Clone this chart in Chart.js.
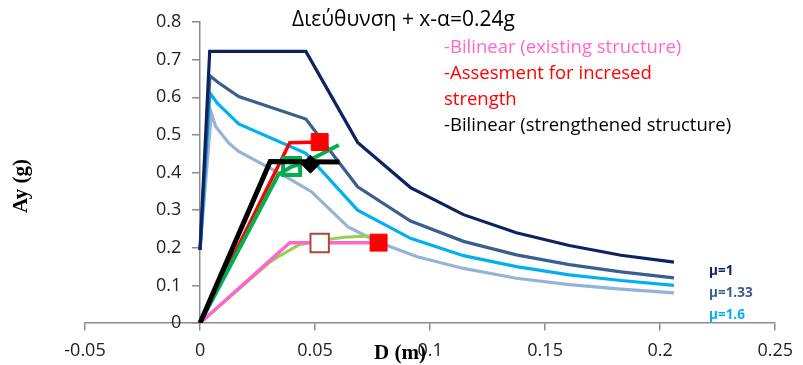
<!DOCTYPE html>
<html>
<head>
<meta charset="utf-8">
<script src="https://cdn.jsdelivr.net/npm/chart.js@4.4.1/dist/chart.umd.min.js"></script>
<style>
html,body{margin:0;padding:0;background:#fff;}
#wrap{width:803px;height:365px;position:relative;}
</style>
</head>
<body>
<div id="wrap"><canvas id="c" width="803" height="365"></canvas></div>
<script>
// Spectra in ADRS form: D (m) vs Ay (g)
const mu1D   = [0, 0.0042, 0.046, 0.0685, 0.0915, 0.1145, 0.1375, 0.1605, 0.183, 0.206];
const mu1A   = [0.194, 0.722, 0.722, 0.48, 0.36, 0.288, 0.24, 0.206, 0.18, 0.162];
const mu133D = [0, 0.0043, 0.0079, 0.0168, 0.046, 0.0685, 0.0915, 0.1145, 0.1375, 0.1605, 0.183, 0.206];
const mu133A = [0.194, 0.657, 0.639, 0.602, 0.542, 0.362, 0.271, 0.217, 0.181, 0.155, 0.136, 0.12];
const mu16D  = [0, 0.0043, 0.0075, 0.0168, 0.046, 0.0685, 0.0915, 0.1145, 0.1375, 0.1605, 0.183, 0.206];
const mu16A  = [0.194, 0.611, 0.584, 0.529, 0.451, 0.30, 0.225, 0.179, 0.15, 0.128, 0.113, 0.10];
const mu2D   = [0, 0.0049, 0.0068, 0.0125, 0.0168, 0.0384, 0.0484, 0.0642, 0.077, 0.0944, 0.1145, 0.1375, 0.1605, 0.183, 0.206];
const mu2A   = [0.194, 0.558, 0.522, 0.478, 0.456, 0.385, 0.349, 0.256, 0.216, 0.176, 0.145, 0.119, 0.102, 0.09, 0.08];

// capacity curves and bilinears
const capExistD = [0, 0.03, 0.034, 0.0427, 0.052, 0.0628, 0.0736];
const capExistA = [0, 0.16, 0.176, 0.207, 0.219, 0.228, 0.231];
const bilExistD = [0, 0.039, 0.0776];
const bilExistA = [0, 0.2136, 0.2136];
const assessD   = [0, 0.039, 0.052];
const assessA   = [0, 0.479, 0.481];
const capStrD   = [0, 0.034, 0.0398, 0.045, 0.0484, 0.0603];
const capStrA   = [0, 0.394, 0.416, 0.425, 0.435, 0.473];
const bilStrD   = [0, 0.0305, 0.0606];
const bilStrA   = [0, 0.429, 0.428];

// performance points
const redPtsD   = [0.052, 0.0776];
const redPtsA   = [0.481, 0.2136];
const brownPtD  = [0.052];
const brownPtA  = [0.2125];
const greenPtD  = [0.0398];
const greenPtA  = [0.416];
const blackPtD  = [0.048];
const blackPtA  = [0.422];

const xTicks = [-0.05, 0, 0.05, 0.1, 0.15, 0.2, 0.25];
const yTicks = [0, 0.1, 0.2, 0.3, 0.4, 0.5, 0.6, 0.7, 0.8];

const titleText = 'Διεύθυνση + x-α=0.24g';
const noteLines = [
  ['-Bilinear (existing structure)', '#ff66cc'],
  ['-Assesment for incresed', '#ff0000'],
  ['strength', '#ff0000'],
  ['-Bilinear (strengthened structure)', '#000000']
];
const muLabels = [['μ=1', '#0d2262'], ['μ=1.33', '#3a5f8f'], ['μ=1.6', '#00b0f0']];

const pts = (xs, ys) => xs.map((x, i) => ({ x, y: ys[i] }));

function line(data, color, width, order) {
  return { data, borderColor: color, borderWidth: width, showLine: true, pointRadius: 0,
           fill: false, tension: 0, order, borderJoinStyle: 'miter' };
}
function marker(data, style, radius, bg, border, bw, order) {
  return { data, showLine: false, pointStyle: style, pointRadius: radius,
           backgroundColor: bg, borderColor: border, borderWidth: bw, order };
}

const textPlugin = {
  id: 'texts',
  afterDraw(chart) {
    const ctx = chart.ctx;
    ctx.save();
    ctx.textBaseline = 'middle';
    ctx.textAlign = 'left';
    ctx.fillStyle = '#000';
    ctx.font = '21px "Open Sans"';
    ctx.fillText(titleText, 292, 20);

    ctx.font = '18.5px "Open Sans"';
    const noteY = [48, 74, 100, 126];
    noteLines.forEach((n, i) => { ctx.fillStyle = n[1]; ctx.fillText(n[0], 444, noteY[i]); });

    ctx.font = 'bold 13.5px "Open Sans"';
    const muY = [271, 293, 315];
    muLabels.forEach((m, i) => { ctx.fillStyle = m[1]; ctx.fillText(m[0], 709, muY[i]); });

    // axis titles
    ctx.fillStyle = '#000';
    ctx.font = 'bold 21px "Liberation Serif"';
    ctx.textAlign = 'center';
    ctx.fillText('D (m)', 400, 354);
    ctx.translate(22, 186);
    ctx.rotate(-Math.PI / 2);
    ctx.fillText('Ay (g)', 0, 0);
    ctx.restore();
  }
};

const fmtTick = v => String(Number(v.toFixed(2)));

new Chart(document.getElementById('c'), {
  type: 'scatter',
  data: {
    datasets: [
      marker(pts(blackPtD, blackPtA), 'rectRot', 9, '#000', '#000', 1, 0),
      line(pts(bilStrD, bilStrA), '#000000', 5, 1),
      marker(pts(redPtsD, redPtsA), 'rect', 12, '#ff0000', '#ff0000', 1, 2),
      marker(pts(brownPtD, brownPtA), 'rect', 13, '#ffffff', '#a9463f', 2, 3),
      line(pts(capStrD, capStrA), '#00b050', 4, 4),
      marker(pts(greenPtD, greenPtA), 'rect', 12, '#ffffff', '#00b050', 4, 5),
      line(pts(assessD, assessA), '#ff0000', 3.5, 6),
      line(pts(bilExistD, bilExistA), '#ff66cc', 3.5, 7),
      line(pts(capExistD, capExistA), '#92d050', 3, 8),
      line(pts(mu1D, mu1A), '#0d2262', 3.2, 9),
      line(pts(mu133D, mu133A), '#3a5f8f', 3.2, 10),
      line(pts(mu16D, mu16A), '#00b0f0', 3.2, 11),
      line(pts(mu2D, mu2A), '#95b3d7', 3.2, 12)
    ]
  },
  options: {
    responsive: false,
    animation: false,
    layout: { padding: { left: 85, right: 21, top: 22, bottom: 42 } },
    plugins: { legend: { display: false }, tooltip: { enabled: false } },
    scales: {
      x: {
        type: 'linear', min: -0.05, max: 0.25, position: { y: 0 },
        afterBuildTicks: s => { s.ticks = xTicks.map(v => ({ value: v })); },
        grid: { drawOnChartArea: false, drawTicks: true, tickLength: 7, color: '#8c8c8c', lineWidth: 1.5 },
        border: { display: true, color: '#8c8c8c', width: 1.5 },
        ticks: { callback: fmtTick, color: '#222', font: { family: 'Open Sans', size: 18 }, padding: 10, maxRotation: 0 }
      },
      y: {
        type: 'linear', min: 0, max: 0.8, position: { x: 0 },
        afterBuildTicks: s => { s.ticks = yTicks.map(v => ({ value: v })); },
        grid: { drawOnChartArea: false, drawTicks: true, tickLength: 7, color: '#8c8c8c', lineWidth: 1.5 },
        border: { display: true, color: '#8c8c8c', width: 1.5 },
        // an axis placed at x=0 draws its labels flush against the line, so pad them with spaces
        ticks: { callback: v => fmtTick(v) + '    ', color: '#222', font: { family: 'Open Sans', size: 18 } }
      }
    }
  },
  plugins: [textPlugin]
});
</script>
</body>
</html>
